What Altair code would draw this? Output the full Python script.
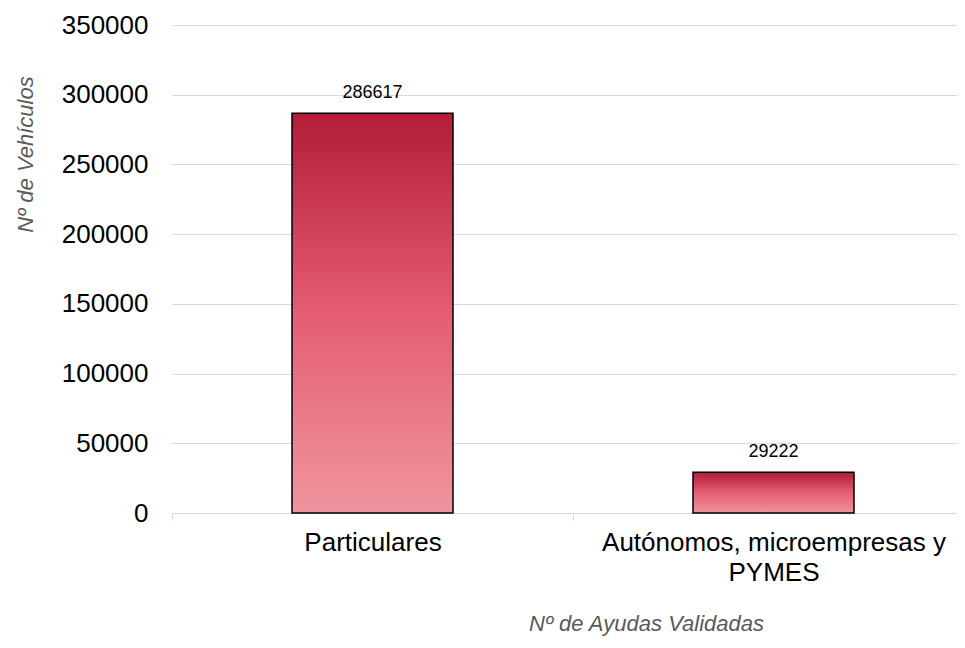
import altair as alt
import pandas as pd

categories = ["Particulares", "Autónomos, microempresas y PYMES"]
values = [286617, 29222]

df = pd.DataFrame({"cat": categories, "val": values})

gradient = alt.Gradient(
    gradient="linear",
    stops=[
        alt.GradientStop(color="#B21C37", offset=0),
        alt.GradientStop(color="#E45D73", offset=0.5),
        alt.GradientStop(color="#F0959F", offset=1),
    ],
    x1=0, x2=0, y1=0, y2=1,
)

label_expr = ("datum.label == 'Autónomos, microempresas y PYMES' ? "
              "['Autónomos, microempresas y', 'PYMES'] : datum.label")

x_enc = alt.X(
    "cat:N",
    sort=categories,
    scale=alt.Scale(range=[0, 802], paddingInner=0, paddingOuter=0),
    axis=alt.Axis(
        title="Nº de Ayudas Validadas",
        titleFont="Liberation Sans", titleFontSize=22, titleFontStyle="italic",
        titleFontWeight="normal", titleColor="#595959",
        titleX=474, titleY=117, titleBaseline="alphabetic", titleAlign="center",
        labelFont="Liberation Sans", labelFontSize=26, labelColor="#000000",
        labelAngle=0, labelPadding=9, labelLineHeight=30, labelLimit=0,
        labelExpr=label_expr,
        domainColor="#d9d9d9", tickColor="#d9d9d9", tickSize=7,
        tickBand="extent", grid=False,
    ),
)

y_enc = alt.Y(
    "val:Q",
    scale=alt.Scale(domain=[0, 350000]),
    axis=alt.Axis(
        values=[0, 50000, 100000, 150000, 200000, 250000, 300000, 350000],
        format="d",
        title="Nº de  Vehículos",
        titleFont="Liberation Sans", titleFontSize=22, titleFontStyle="italic",
        titleFontWeight="normal", titleColor="#595959",
        titleX=-140, titleY=129, titleBaseline="alphabetic", titleAlign="center",
        labelFont="Liberation Sans", labelFontSize=26, labelColor="#000000",
        labelPadding=24, ticks=False, domain=False,
        gridColor="#d9d9d9", gridWidth=1,
    ),
)

bars = alt.Chart(df).mark_bar(
    size=161, fill=gradient, stroke="#000000", strokeWidth=1.5
).encode(x=x_enc, y=y_enc)

text = alt.Chart(df).mark_text(
    baseline="alphabetic", dy=-15, font="Liberation Sans", fontSize=18, color="#000000"
).encode(x=alt.X("cat:N", sort=categories), y="val:Q", text=alt.Text("val:Q", format="d"))

chart = (bars + text).properties(
    width=785, height=488,
    autosize=alt.AutoSizeParams(type="none"),
    padding={"left": 164, "top": 17, "right": 0, "bottom": 127},
).configure_view(stroke=None)

chart.save("out.html", embed_options={"renderer": "svg", "actions": False})
